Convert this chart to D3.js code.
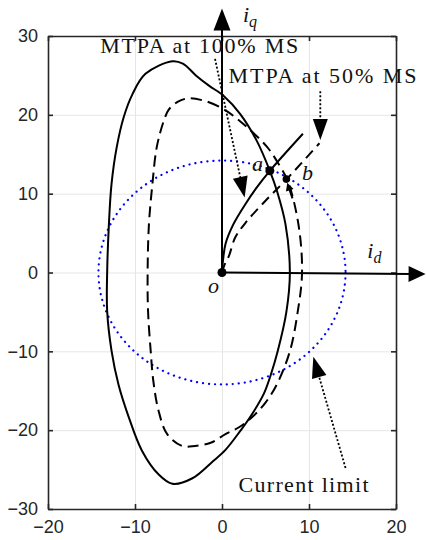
<!DOCTYPE html>
<html>
<head>
<meta charset="utf-8">
<script src="https://cdn.jsdelivr.net/npm/d3@7"></script>
<style>
  body { margin: 0; background: #fff; }
  .tick text { font-family: "Liberation Sans", Arial, sans-serif; font-size: 18px; fill: #262626; }
  .lbl { font-family: "Liberation Serif", "Times New Roman", serif; font-size: 22px; fill: #111; }
  .sym { font-family: "Liberation Serif", "Times New Roman", serif; font-style: italic; font-size: 22px; fill: #111; }
</style>
</head>
<body>
<div id="chart"></div>
<script>
// tick values
var xTicks = [-20, -10, 0, 10, 20];
var yTicks = [-30, -20, -10, 0, 10, 20, 30];

// voltage limit contour at 100% MS (solid), [id, iq]
var contour100 = [
  [-5.7, 26.8], [-4.5, 26.5], [-3.0, 25.0], [-1.5, 23.7], [0.2, 22.4], [2.1, 20.1],
  [4.0, 16.7], [5.5, 12.9], [6.3, 10.4], [7.3, 6.1], [7.8, 0], [7.4, -5],
  [6.4, -10], [5.6, -13.0], [4.8, -15.4], [3.2, -18.4], [2.1, -20.1], [0.4, -22.5],
  [-1.1, -24.0], [-3.4, -26.1], [-5.7, -26.8], [-7.3, -25.6], [-9.2, -22.6],
  [-10.7, -18.4], [-11.9, -14.2], [-12.7, -9.9], [-13.2, -4.9], [-13.2, 0],
  [-13.0, 6.1], [-12.7, 11.2], [-12.1, 15.9], [-11.3, 19.7], [-10.3, 22.6], [-8.8, 25.2]
];

// voltage limit contour at 50% MS (dashed)
var contour50 = [
  [-3.8, 22.1], [-1.5, 21.6], [0.5, 20.5], [2.7, 18.6], [5.2, 15.9], [6.6, 13.6],
  [7.6, 11.5], [8.8, 6], [9.2, 0], [8.7, -5], [7.8, -10], [6.3, -14.2],
  [5.0, -16.5], [3.6, -18.2], [2.0, -19.6], [0.4, -20.5], [-1.3, -21.6],
  [-3.1, -22.0], [-4.6, -22.0], [-6.3, -20.5], [-7.3, -17.5], [-7.9, -13.7],
  [-8.2, -9.9], [-8.5, -4.9], [-8.55, 0], [-8.4, 6.1], [-8.0, 11.2], [-7.5, 15.9],
  [-6.7, 19.2], [-6.1, 20.7], [-5.0, 21.7]
];

// MTPA trajectories
var mtpa100 = [[0, 0], [0.4, 3.6], [1.3, 6.1], [2.7, 8.7], [4.0, 10.8], [5.5, 12.9], [9.3, 17.6]];
var mtpa50 = [[0, 0], [0.3, 1.0], [0.8, 2.1], [1.5, 4.4], [2.7, 6.3], [5.0, 9.1], [7.4, 11.8], [11.2, 16.4]];

// current limit radius
var currentLimit = 14.2;

// operating points
var points = [
  { name: "a", id: 5.5, iq: 12.9, r: 4.5, lx: 3.45, ly: 12.9 },
  { name: "b", id: 7.4, iq: 11.85, r: 3.8, lx: 9.2, ly: 11.7 }
];

var width = 426, height = 540;
var margin = { top: 36, left: 48, right: 30, bottom: 31 };

var svg = d3.select("#chart").append("svg")
  .attr("width", width)
  .attr("height", height);

var x = d3.scaleLinear().domain([-20, 20]).range([margin.left, width - margin.right]);
var y = d3.scaleLinear().domain([-30, 30]).range([height - margin.bottom, margin.top]);
var plotW = width - margin.right - margin.left;
var plotH = height - margin.bottom - margin.top;

// grid
svg.append("g")
  .attr("transform", "translate(0," + (height - margin.bottom) + ")")
  .call(d3.axisBottom(x).tickValues(xTicks).tickSize(-plotH).tickFormat(""))
  .call(function(g) { g.select(".domain").remove(); })
  .selectAll("line").attr("stroke", "#e6e6e6");
svg.append("g")
  .attr("transform", "translate(" + margin.left + ",0)")
  .call(d3.axisLeft(y).tickValues(yTicks).tickSize(-plotW).tickFormat(""))
  .call(function(g) { g.select(".domain").remove(); })
  .selectAll("line").attr("stroke", "#e6e6e6");

// box axes, ticks pointing in
function styleAxis(g) {
  g.attr("font-family", "Liberation Sans, Arial, sans-serif").attr("font-size", 18);
  g.select(".domain").attr("stroke", "#262626").attr("stroke-width", 1.6);
  g.selectAll(".tick line").attr("stroke", "#262626").attr("stroke-width", 1.6);
}
svg.append("g")
  .attr("transform", "translate(0," + (height - margin.bottom) + ")")
  .call(d3.axisBottom(x).tickValues(xTicks).tickSizeInner(-5).tickSizeOuter(0).tickPadding(11).tickFormat(d3.format("d")))
  .call(styleAxis);
svg.append("g")
  .attr("transform", "translate(" + margin.left + ",0)")
  .call(d3.axisLeft(y).tickValues(yTicks).tickSizeInner(-5).tickSizeOuter(0).tickPadding(10).tickFormat(d3.format("d")))
  .call(styleAxis);
svg.append("g")
  .attr("transform", "translate(0," + margin.top + ")")
  .call(d3.axisTop(x).tickValues(xTicks).tickSizeInner(-5).tickSizeOuter(0).tickFormat(""))
  .call(styleAxis);
svg.append("g")
  .attr("transform", "translate(" + (width - margin.right) + ",0)")
  .call(d3.axisRight(y).tickValues(yTicks).tickSizeInner(-5).tickSizeOuter(0).tickFormat(""))
  .call(styleAxis);

var line = d3.line()
  .x(function(d) { return x(d[0]); })
  .y(function(d) { return y(d[1]); });

// current limit circle (blue dotted)
svg.append("ellipse")
  .attr("cx", x(0))
  .attr("cy", y(0))
  .attr("rx", x(currentLimit) - x(0))
  .attr("ry", y(0) - y(currentLimit))
  .attr("fill", "none")
  .attr("stroke", "#0000ff")
  .attr("stroke-width", 2.2)
  .attr("stroke-linecap", "round")
  .attr("stroke-dasharray", "0.1,5.9");

// voltage limit contours
svg.append("path")
  .datum(contour100)
  .attr("fill", "none")
  .attr("stroke", "#000")
  .attr("stroke-width", 2)
  .attr("d", line.curve(d3.curveCatmullRomClosed));

svg.append("path")
  .datum(contour50)
  .attr("fill", "none")
  .attr("stroke", "#000")
  .attr("stroke-width", 2)
  .attr("stroke-dasharray", "11,6")
  .attr("d", line.curve(d3.curveCatmullRomClosed));

// MTPA lines
svg.append("path")
  .datum(mtpa100)
  .attr("fill", "none")
  .attr("stroke", "#000")
  .attr("stroke-width", 2)
  .attr("d", line.curve(d3.curveCatmullRom));

svg.append("path")
  .datum(mtpa50)
  .attr("fill", "none")
  .attr("stroke", "#000")
  .attr("stroke-width", 2)
  .attr("stroke-dasharray", "10,6")
  .attr("d", line.curve(d3.curveCatmullRom));

// draws a filled arrowhead with its tip at (tx,ty) coming from (fx,fy), pixel sizes
function arrowHead(fx, fy, tx, ty, len, half) {
  var a = Math.atan2(ty - fy, tx - fx);
  var bx = tx - len * Math.cos(a), by = ty - len * Math.sin(a);
  var px = -Math.sin(a) * half, py = Math.cos(a) * half;
  svg.append("path")
    .attr("d", "M" + tx + "," + ty + "L" + (bx + px) + "," + (by + py) + "L" + (bx - px) + "," + (by - py) + "Z")
    .attr("fill", "#000");
}

function arrow(from, to, dotted, len, half, sw) {
  var fx = x(from[0]), fy = y(from[1]), tx = x(to[0]), ty = y(to[1]);
  var a = Math.atan2(ty - fy, tx - fx);
  svg.append("line")
    .attr("x1", fx).attr("y1", fy)
    .attr("x2", tx - (len - 2) * Math.cos(a)).attr("y2", ty - (len - 2) * Math.sin(a))
    .attr("stroke", "#000")
    .attr("stroke-width", sw)
    .attr("stroke-dasharray", dotted ? "2,2" : null);
  arrowHead(fx, fy, tx, ty, len, half);
}

// id / iq axes
arrow([0, 0], [0, 33.5], false, 22, 8.5, 2);
arrow([0, 0], [23.4, -0.2], false, 17, 8, 2);

// annotation arrows
arrow([-0.8, 27.1], [2.6, 9.5], true, 21, 7.5, 1.8);
arrow([11.3, 23.0], [11.3, 16.8], true, 21, 7.5, 1.8);
arrow([14.2, -24.8], [10.5, -10.7], true, 21, 7.5, 1.8);
arrow([8.1, 9.4], [7.5, 11.4], false, 8, 4, 2);

// origin and operating points
svg.append("circle").attr("cx", x(0)).attr("cy", y(0)).attr("r", 4.5).attr("fill", "#000");
svg.selectAll(".pt")
  .data(points)
  .enter()
  .append("circle")
  .attr("class", "pt")
  .attr("cx", function(d) { return x(d.id); })
  .attr("cy", function(d) { return y(d.iq); })
  .attr("r", function(d) { return d.r; })
  .attr("fill", "#000");

svg.selectAll(".ptlbl")
  .data(points)
  .enter()
  .append("text")
  .attr("class", "sym")
  .attr("x", function(d) { return x(d.lx); })
  .attr("y", function(d) { return y(d.ly); })
  .text(function(d) { return d.name; });

svg.append("text").attr("class", "sym").attr("x", x(-1.6)).attr("y", y(-2.6)).text("o");

// axis symbols
var iq = svg.append("text").attr("class", "sym").attr("x", x(2.4)).attr("y", y(31.8));
iq.append("tspan").text("i");
iq.append("tspan").attr("dy", 5).style("font-size", "16px").text("q");
var idl = svg.append("text").attr("class", "sym").attr("x", x(16.7)).attr("y", y(1.8));
idl.append("tspan").text("i");
idl.append("tspan").attr("dy", 5).style("font-size", "16px").text("d");

// labels
svg.append("text").attr("class", "lbl")
  .attr("x", x(-14.0)).attr("y", y(27.85))
  .attr("textLength", 198).attr("lengthAdjust", "spacing")
  .text("MTPA at 100% MS");
svg.append("text").attr("class", "lbl")
  .attr("x", x(0.74)).attr("y", y(24.0))
  .attr("textLength", 188).attr("lengthAdjust", "spacing")
  .text("MTPA at 50% MS");
svg.append("text").attr("class", "lbl")
  .attr("x", x(1.9)).attr("y", y(-27.85))
  .attr("textLength", 130).attr("lengthAdjust", "spacing")
  .text("Current limit");
</script>
</body>
</html>
